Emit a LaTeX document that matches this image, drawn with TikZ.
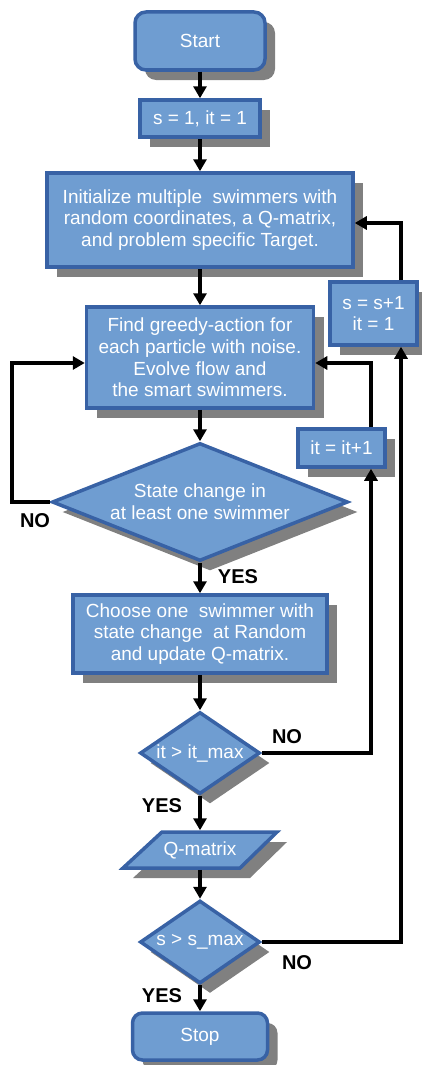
\documentclass[tikz,border=0pt]{standalone}
\usepackage{fontspec}
\setmainfont{Liberation Sans}
\usetikzlibrary{arrows.meta,shapes.geometric,shadows,calc}
\definecolor{boxfill}{RGB}{111,157,209}
\definecolor{boxline}{RGB}{56,98,165}
\definecolor{shadowgray}{RGB}{128,128,128}
\begin{document}
\begin{tikzpicture}[x=1pt,y=-1pt,
  base/.style={draw=boxline,fill=boxfill,line width=3.5pt,text=white,align=center,
    font=\fontsize{19}{21.7}\selectfont,inner sep=0pt,
    drop shadow={shadow xshift=10pt,shadow yshift=-10pt,fill=shadowgray,opacity=1}},
  procbox/.style={base,rectangle},
  termbox/.style={base,rectangle,rounded corners=11pt},
  decbox/.style={base,diamond},
  arr/.style={line width=4pt,-{Triangle[length=12pt,width=13pt]}},
  lab/.style={font=\fontsize{20}{22}\selectfont\bfseries,text=black}]
\useasboundingbox (0,0) rectangle (421,1065);
% nodes
\node[termbox,minimum width=130pt,minimum height=58pt] (start) at (200,41) {Start};
\node[procbox,minimum width=120pt,minimum height=37pt] (init0) at (200,118.5) {s = 1, it = 1};
\node[procbox,minimum width=306pt,minimum height=94pt] (init) at (200,220) {Initialize multiple\ \ swimmers with\\random coordinates, a Q-matrix,\\and problem specific Target.};
\node[procbox,minimum width=227pt,minimum height=101pt] (find) at (200,357.5) {Find greedy-action for\\each particle with noise.\\Evolve flow and\\the smart swimmers.};
\node[decbox,aspect=2.5,minimum width=296pt,minimum height=118pt] (d1) at (200,502) {State change in\\at least one swimmer};
\node[procbox,minimum width=254pt,minimum height=78pt] (choose) at (200,634) {Choose one\ \ swimmer\ with\\state change\ \ at Random\ \\and update Q-matrix.};
\node[decbox,aspect=1.46,minimum width=120pt,minimum height=82pt] (d2) at (200,753) {it > it\_max};
% Q-matrix parallelogram
\fill[shadowgray] (133,878) -- (172,842) -- (287,842) -- (250,878) -- cycle;
\filldraw[draw=boxline,fill=boxfill,line width=3.5pt,line join=miter] (123,868) -- (162,832) -- (277,832) -- (240,868) -- cycle;
\node[text=white,font=\fontsize{19}{21.7}\selectfont,minimum width=116pt,minimum height=36pt,inner sep=0pt,outer sep=1.75pt] (qm) at (200,850) {Q-matrix};
\node[decbox,aspect=1.46,minimum width=120pt,minimum height=83pt] (d3) at (200,942) {s > s\_max};
\node[termbox,rounded corners=10pt,minimum width=135pt,minimum height=47pt] (stop) at (200,1036.5) {Stop};
\node[procbox,minimum width=87pt,minimum height=38pt] (itp) at (341.5,448) {it = it+1};
\node[procbox,minimum width=87pt,minimum height=63pt] (ssp) at (373.5,313.5) {s = s+1\\it = 1};
% helper coordinates
\coordinate (L) at (12,0);
\coordinate (R1) at (371,0);
\coordinate (R2) at (401,0);
% main flow
\draw[arr] (start.south) -- (init0.north);
\draw[arr] (init0.south) -- (init.north);
\draw[arr] (init.south) -- (find.north);
\draw[arr] (find.south) -- (d1.north);
\draw[arr] (d1.south) -- (choose.north);
\draw[arr] (choose.south) -- (d2.north);
\draw[arr] (d2.south) -- (qm.north);
\draw[arr] (qm.south) -- (d3.north);
\draw[arr] (d3.south) -- (stop.north);
% loops
\draw[arr,line join=miter] (d1.west) -- (d1.west -| L) |- ([yshift=-5.5pt]find.west);
\draw[arr,line join=miter] (d2.east) -- (d2.east -| R1) -- (itp.south -| R1);
\draw[arr,line join=miter] (itp.north -| R1) |- ([yshift=-5.5pt]find.east);
\draw[arr,line join=miter] (d3.east) -- (d3.east -| R2) -- (ssp.south -| R2);
\draw[arr,line join=miter] (ssp.north -| R2) |- ([yshift=-3pt]init.east);
% labels
\node[lab] (n1) at (35,521) {NO};
\node[lab] (y1) at (238,577) {YES};
\node[lab] (n2) at (287,737) {NO};
\node[lab] (y2) at (162,806) {YES};
\node[lab] (n3) at (297,963) {NO};
\node[lab] (y3) at (162,996) {YES};
\end{tikzpicture}
\end{document}
